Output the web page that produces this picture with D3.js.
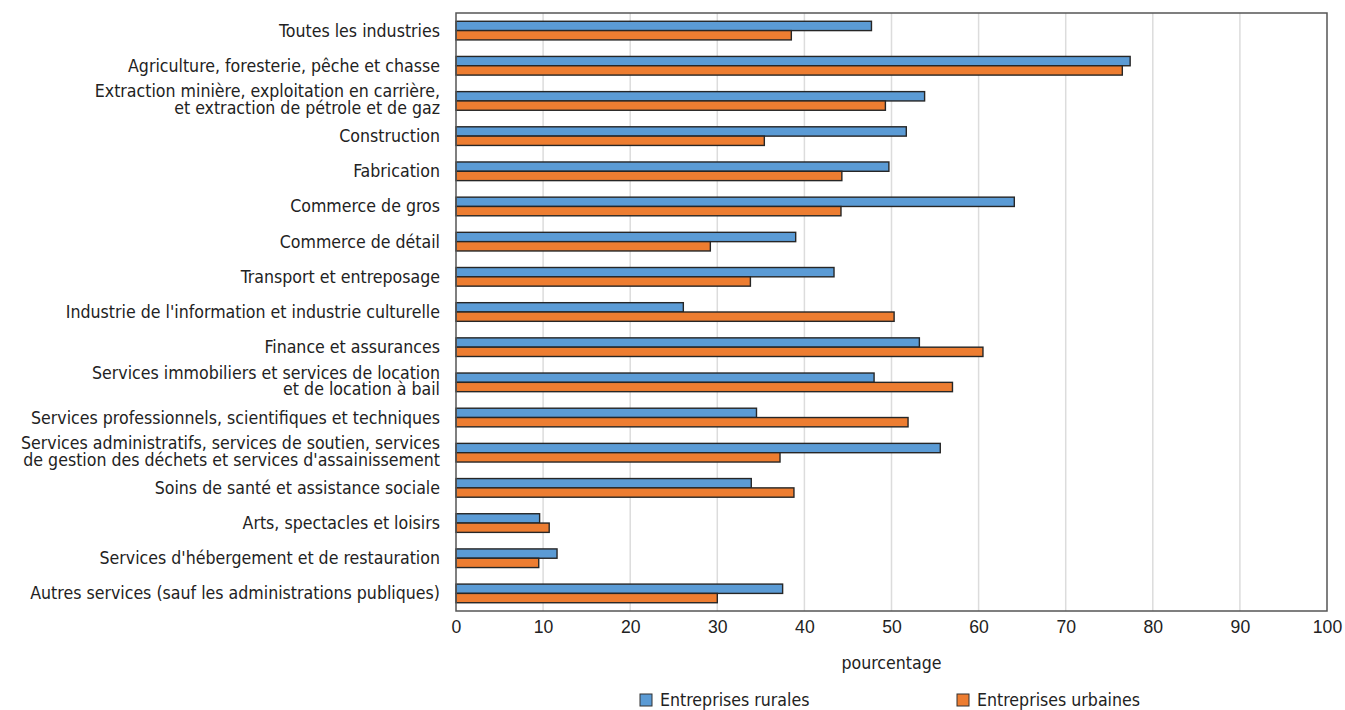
<!DOCTYPE html>
<html>
<head>
<meta charset="utf-8">
<script src="https://cdn.jsdelivr.net/npm/d3@7"></script>
<style>
  body { margin: 0; background: #fff; }
  svg { font-family: "Liberation Sans Narrow", "DejaVu Sans Condensed", "Roboto", sans-serif; }
</style>
</head>
<body>
<svg id="chart" width="1345" height="710"></svg>
<script>
const categories = [
  ["Toutes les industries"],
  ["Agriculture, foresterie, pêche et chasse"],
  ["Extraction minière, exploitation en carrière,", "et extraction de pétrole et de gaz"],
  ["Construction"],
  ["Fabrication"],
  ["Commerce de gros"],
  ["Commerce de détail"],
  ["Transport et entreposage"],
  ["Industrie de l'information et industrie culturelle"],
  ["Finance et assurances"],
  ["Services immobiliers et services de location", "et de location à bail"],
  ["Services professionnels, scientifiques et techniques"],
  ["Services administratifs, services de soutien, services", "de gestion des déchets et services d'assainissement"],
  ["Soins de santé et assistance sociale"],
  ["Arts, spectacles et loisirs"],
  ["Services d'hébergement et de restauration"],
  ["Autres services (sauf les administrations publiques)"]
];
const rural = [47.7, 77.4, 53.8, 51.7, 49.7, 64.1, 39.0, 43.4, 26.1, 53.2, 48.0, 34.5, 55.6, 33.9, 9.6, 11.6, 37.5];
const urban = [38.5, 76.5, 49.3, 35.4, 44.3, 44.2, 29.2, 33.8, 50.3, 60.5, 57.0, 51.9, 37.2, 38.8, 10.7, 9.5, 30.0];
const seriesNames = ["Entreprises rurales", "Entreprises urbaines"];
const colors = ["#5b9bd5", "#ed7d31"];
const xTicks = [0, 10, 20, 30, 40, 50, 60, 70, 80, 90, 100];
const xTitle = "pourcentage";

const svg = d3.select("#chart");
const m = {left: 456, right: 1327, top: 13, bottom: 611};

const x = d3.scaleLinear().domain([0, 100]).range([m.left, m.right]);
const y = d3.scaleBand()
  .domain(d3.range(categories.length))
  .range([m.top, m.bottom])
  .paddingInner(0.47)
  .paddingOuter(0.235);
const ySub = d3.scaleBand().domain([0, 1]).range([0, y.bandwidth()]);

// grid
svg.append("g")
  .selectAll("line")
  .data(xTicks.slice(1, -1)).enter()
  .append("line")
  .attr("x1", d => x(d)).attr("x2", d => x(d))
  .attr("y1", m.top).attr("y2", m.bottom)
  .attr("stroke", "#dcdcdc")
  .attr("stroke-width", 1.5);

// bars
const rows = categories.map((c, i) => ({i, vals: [rural[i], urban[i]]}));
const groups = svg.append("g")
  .selectAll("g")
  .data(rows).enter()
  .append("g")
  .attr("transform", d => `translate(0, ${y(d.i)})`);

groups.selectAll("rect")
  .data(d => d.vals.map((v, s) => ({v, s}))).enter()
  .append("rect")
  .attr("x", x(0))
  .attr("y", d => ySub(d.s))
  .attr("width", d => x(d.v) - x(0))
  .attr("height", ySub.bandwidth())
  .attr("fill", d => colors[d.s])
  .attr("stroke", "#262626")
  .attr("stroke-width", 1.4);

// frame
svg.append("rect")
  .attr("x", m.left).attr("y", m.top)
  .attr("width", m.right - m.left).attr("height", m.bottom - m.top)
  .attr("fill", "none")
  .attr("stroke", "#555")
  .attr("stroke-width", 1.5);

// category labels
const labels = svg.append("g")
  .attr("font-size", 17.6)
  .attr("fill", "#222")
  .attr("text-anchor", "end");
categories.forEach((lines, i) => {
  const c = y(i) + y.bandwidth() / 2;
  const t = labels.append("text").attr("x", m.left - 16);
  if (lines.length == 1) {
    t.append("tspan").attr("x", m.left - 16).attr("y", c + 6).text(lines[0]);
  } else {
    t.append("tspan").attr("x", m.left - 16).attr("y", c - 3.5).text(lines[0]);
    t.append("tspan").attr("x", m.left - 16).attr("y", c + 13).text(lines[1]);
  }
});

// x axis labels
const xAxis = svg.append("g")
  .attr("transform", `translate(0, ${m.bottom})`)
  .call(d3.axisBottom(x).tickValues(xTicks).tickSize(0).tickPadding(10));
xAxis.select(".domain").remove();
xAxis.selectAll("text")
  .attr("font-size", 17.6)
  .attr("font-family", null)
  .attr("fill", "#222");

svg.append("text")
  .attr("x", (m.left + m.right) / 2)
  .attr("y", 669)
  .attr("text-anchor", "middle")
  .attr("font-size", 17.6)
  .attr("fill", "#222")
  .text(xTitle);

// legend
const legendX = [640, 957];
const legend = svg.append("g")
  .selectAll("g")
  .data(seriesNames).enter()
  .append("g")
  .attr("transform", (d, i) => `translate(${legendX[i]}, 694)`);
legend.append("rect")
  .attr("width", 12).attr("height", 12)
  .attr("fill", (d, i) => colors[i])
  .attr("stroke", "#333")
  .attr("stroke-width", 1);
legend.append("text")
  .attr("x", 20).attr("y", 12)
  .attr("font-size", 17.6)
  .attr("fill", "#222")
  .text(d => d);
</script>
</body>
</html>
